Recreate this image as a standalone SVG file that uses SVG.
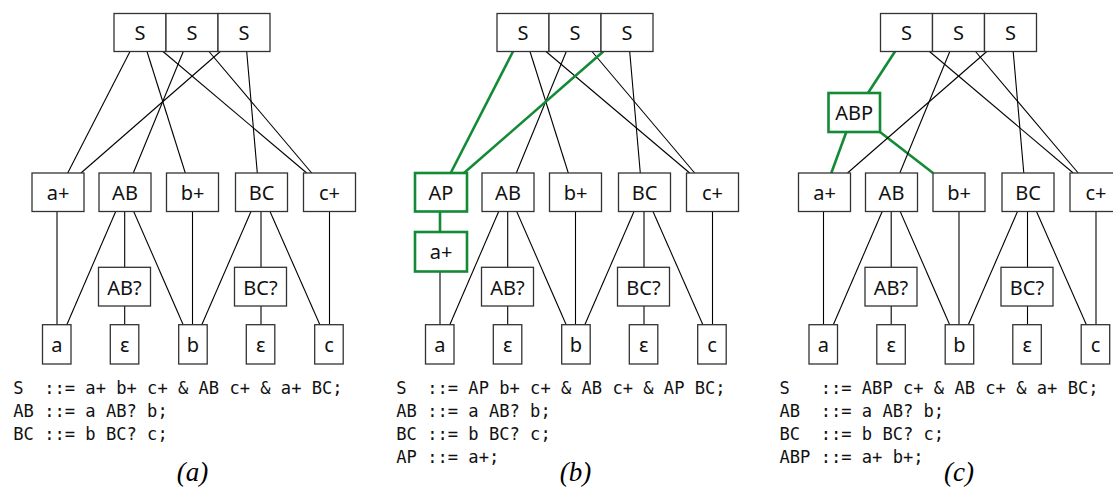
<svg xmlns="http://www.w3.org/2000/svg" width="1113" height="488" viewBox="0 0 1113 488">
<style>
.bx{fill:#fff;stroke:#333;stroke-width:1.3}
.hb{fill:#fff;stroke:#138a36;stroke-width:2.6}
.e{stroke:#000;stroke-width:1.1;fill:none}
.he{stroke:#138a36;stroke-width:2.6;fill:none}
.l{font-family:"Noto Sans","DejaVu Sans",sans-serif;font-size:20px;text-anchor:middle;fill:#111}
.g{font-family:"DejaVu Sans Mono","Liberation Mono",monospace;font-size:17.1px;fill:#111;white-space:pre}
.c{font-family:"Liberation Serif","Times New Roman",serif;font-style:italic;font-size:27px;text-anchor:middle;fill:#000}
</style>
<rect width="1113" height="488" fill="#fff"/>

<!-- Panel (a) -->
<g id="panel-a">
<g id="a-connectors">
<line class="e" x1="130" y1="51.5" x2="67.7" y2="173"/>
<line class="e" x1="147" y1="51.5" x2="185.3" y2="173"/>
<line class="e" x1="163" y1="51.5" x2="306.7" y2="173"/>
<line class="e" x1="183.3" y1="51.5" x2="133.3" y2="173"/>
<line class="e" x1="209" y1="51.5" x2="311.7" y2="173"/>
<line class="e" x1="220.3" y1="51.5" x2="81" y2="173"/>
<line class="e" x1="246.7" y1="51.5" x2="257.3" y2="173"/>
<line class="e" x1="57" y1="211.5" x2="57" y2="325"/>
<line class="e" x1="115.7" y1="211.5" x2="66.7" y2="325"/>
<line class="e" x1="124.7" y1="211.5" x2="124.7" y2="267.3"/>
<line class="e" x1="133.7" y1="211.5" x2="183.3" y2="325"/>
<line class="e" x1="124.7" y1="306" x2="124.7" y2="325"/>
<line class="e" x1="192.5" y1="211.5" x2="192.5" y2="325"/>
<line class="e" x1="251" y1="211.5" x2="201.7" y2="325"/>
<line class="e" x1="261" y1="211.5" x2="261" y2="267.3"/>
<line class="e" x1="270" y1="211.5" x2="320" y2="325"/>
<line class="e" x1="261" y1="306" x2="261" y2="325"/>
<line class="e" x1="329.5" y1="211.5" x2="329.5" y2="325"/>
</g>
<g id="a-S1"><rect class="bx" x="114" y="13.5" width="52" height="38"/><text class="l" x="140" y="40">S</text></g>
<g id="a-S2"><rect class="bx" x="166" y="13.5" width="52" height="38"/><text class="l" x="192" y="40">S</text></g>
<g id="a-S3"><rect class="bx" x="218" y="13.5" width="52" height="38"/><text class="l" x="244" y="40">S</text></g>
<g id="a-aplus"><rect class="bx" x="32" y="173" width="52" height="38.5"/><text class="l" x="58" y="200">a+</text></g>
<g id="a-AB"><rect class="bx" x="99" y="173" width="52" height="38.5"/><text class="l" x="125" y="200">AB</text></g>
<g id="a-bplus"><rect class="bx" x="166.5" y="173" width="52" height="38.5"/><text class="l" x="192.5" y="200">b+</text></g>
<g id="a-BC"><rect class="bx" x="235.5" y="173" width="52" height="38.5"/><text class="l" x="261.5" y="200">BC</text></g>
<g id="a-cplus"><rect class="bx" x="303.5" y="173" width="52" height="38.5"/><text class="l" x="329.5" y="200">c+</text></g>
<g id="a-ABq"><rect class="bx" x="98.5" y="267.3" width="52" height="38.7"/><text class="l" x="124.5" y="295">AB?</text></g>
<g id="a-BCq"><rect class="bx" x="234.5" y="267.3" width="52" height="38.7"/><text class="l" x="260.5" y="295">BC?</text></g>
<g id="a-a"><rect class="bx" x="42.5" y="324.7" width="28.5" height="39.3"/><text class="l" x="56.8" y="351.5">a</text></g>
<g id="a-eps1"><rect class="bx" x="110.3" y="324.7" width="28.5" height="39.3"/><text class="l" x="124.6" y="351.5">ε</text></g>
<g id="a-b"><rect class="bx" x="178.7" y="324.7" width="28.5" height="39.3"/><text class="l" x="193" y="351.5">b</text></g>
<g id="a-eps2"><rect class="bx" x="246.3" y="324.7" width="28.5" height="39.3"/><text class="l" x="260.6" y="351.5">ε</text></g>
<g id="a-c"><rect class="bx" x="314.7" y="324.7" width="28.5" height="39.3"/><text class="l" x="329" y="351.5">c</text></g>
<g id="a-grammar">
<text class="g" x="13.3" y="394" xml:space="preserve">S  ::= a+ b+ c+ &amp; AB c+ &amp; a+ BC;</text>
<text class="g" x="13.3" y="417" xml:space="preserve">AB ::= a AB? b;</text>
<text class="g" x="13.3" y="440" xml:space="preserve">BC ::= b BC? c;</text>
</g>
<text class="c" x="192.5" y="481">(a)</text>
</g>

<!-- Panel (b) -->
<g id="panel-b" transform="translate(383,0)">
<g id="b-connectors">
<line class="he" x1="130" y1="51.5" x2="67.7" y2="173"/>
<line class="e" x1="147" y1="51.5" x2="185.3" y2="173"/>
<line class="e" x1="163" y1="51.5" x2="306.7" y2="173"/>
<line class="e" x1="183.3" y1="51.5" x2="133.3" y2="173"/>
<line class="e" x1="209" y1="51.5" x2="311.7" y2="173"/>
<line class="he" x1="220.3" y1="51.5" x2="81" y2="173"/>
<line class="e" x1="246.7" y1="51.5" x2="257.3" y2="173"/>
<line class="he" x1="57" y1="211.5" x2="57" y2="232"/>
<line class="e" x1="57" y1="271.5" x2="57" y2="325"/>
<line class="e" x1="115.7" y1="211.5" x2="66.7" y2="325"/>
<line class="e" x1="124.7" y1="211.5" x2="124.7" y2="267.3"/>
<line class="e" x1="133.7" y1="211.5" x2="183.3" y2="325"/>
<line class="e" x1="124.7" y1="306" x2="124.7" y2="325"/>
<line class="e" x1="192.5" y1="211.5" x2="192.5" y2="325"/>
<line class="e" x1="251" y1="211.5" x2="201.7" y2="325"/>
<line class="e" x1="261" y1="211.5" x2="261" y2="267.3"/>
<line class="e" x1="270" y1="211.5" x2="320" y2="325"/>
<line class="e" x1="261" y1="306" x2="261" y2="325"/>
<line class="e" x1="329.5" y1="211.5" x2="329.5" y2="325"/>
</g>
<g id="b-S1"><rect class="bx" x="114" y="13.5" width="52" height="38"/><text class="l" x="140" y="40">S</text></g>
<g id="b-S2"><rect class="bx" x="166" y="13.5" width="52" height="38"/><text class="l" x="192" y="40">S</text></g>
<g id="b-S3"><rect class="bx" x="218" y="13.5" width="52" height="38"/><text class="l" x="244" y="40">S</text></g>
<g id="b-AP"><rect class="hb" x="32" y="173" width="52" height="38.5"/><text class="l" x="58" y="200">AP</text></g>
<g id="b-aplus"><rect class="hb" x="32" y="232" width="52" height="39.5"/><text class="l" x="58" y="259">a+</text></g>
<g id="b-AB"><rect class="bx" x="99" y="173" width="52" height="38.5"/><text class="l" x="125" y="200">AB</text></g>
<g id="b-bplus"><rect class="bx" x="166.5" y="173" width="52" height="38.5"/><text class="l" x="192.5" y="200">b+</text></g>
<g id="b-BC"><rect class="bx" x="235.5" y="173" width="52" height="38.5"/><text class="l" x="261.5" y="200">BC</text></g>
<g id="b-cplus"><rect class="bx" x="303.5" y="173" width="52" height="38.5"/><text class="l" x="329.5" y="200">c+</text></g>
<g id="b-ABq"><rect class="bx" x="98.5" y="267.3" width="52" height="38.7"/><text class="l" x="124.5" y="295">AB?</text></g>
<g id="b-BCq"><rect class="bx" x="234.5" y="267.3" width="52" height="38.7"/><text class="l" x="260.5" y="295">BC?</text></g>
<g id="b-a"><rect class="bx" x="42.5" y="324.7" width="28.5" height="39.3"/><text class="l" x="56.8" y="351.5">a</text></g>
<g id="b-eps1"><rect class="bx" x="110.3" y="324.7" width="28.5" height="39.3"/><text class="l" x="124.6" y="351.5">ε</text></g>
<g id="b-b"><rect class="bx" x="178.7" y="324.7" width="28.5" height="39.3"/><text class="l" x="193" y="351.5">b</text></g>
<g id="b-eps2"><rect class="bx" x="246.3" y="324.7" width="28.5" height="39.3"/><text class="l" x="260.6" y="351.5">ε</text></g>
<g id="b-c"><rect class="bx" x="314.7" y="324.7" width="28.5" height="39.3"/><text class="l" x="329" y="351.5">c</text></g>
<g id="b-grammar">
<text class="g" x="13.3" y="394" xml:space="preserve">S  ::= AP b+ c+ &amp; AB c+ &amp; AP BC;</text>
<text class="g" x="13.3" y="417" xml:space="preserve">AB ::= a AB? b;</text>
<text class="g" x="13.3" y="440" xml:space="preserve">BC ::= b BC? c;</text>
<text class="g" x="13.3" y="463" xml:space="preserve">AP ::= a+;</text>
</g>
<text class="c" x="192.5" y="481">(b)</text>
</g>

<!-- Panel (c) -->
<g id="panel-c" transform="translate(766.5,0)">
<g id="c-connectors">
<line class="he" x1="128.5" y1="51.5" x2="101.5" y2="93"/>
<line class="he" x1="79.8" y1="132" x2="64.8" y2="173"/>
<line class="he" x1="113.5" y1="132" x2="166.5" y2="173"/>
<line class="e" x1="163" y1="51.5" x2="306.7" y2="173"/>
<line class="e" x1="183.3" y1="51.5" x2="133.3" y2="173"/>
<line class="e" x1="209" y1="51.5" x2="311.7" y2="173"/>
<line class="e" x1="220.3" y1="51.5" x2="81" y2="173"/>
<line class="e" x1="246.7" y1="51.5" x2="257.3" y2="173"/>
<line class="e" x1="57" y1="211.5" x2="57" y2="325"/>
<line class="e" x1="115.7" y1="211.5" x2="66.7" y2="325"/>
<line class="e" x1="124.7" y1="211.5" x2="124.7" y2="267.3"/>
<line class="e" x1="133.7" y1="211.5" x2="183.3" y2="325"/>
<line class="e" x1="124.7" y1="306" x2="124.7" y2="325"/>
<line class="e" x1="192.5" y1="211.5" x2="192.5" y2="325"/>
<line class="e" x1="251" y1="211.5" x2="201.7" y2="325"/>
<line class="e" x1="261" y1="211.5" x2="261" y2="267.3"/>
<line class="e" x1="270" y1="211.5" x2="320" y2="325"/>
<line class="e" x1="261" y1="306" x2="261" y2="325"/>
<line class="e" x1="329.5" y1="211.5" x2="329.5" y2="325"/>
</g>
<g id="c-S1"><rect class="bx" x="114" y="13.5" width="52" height="38"/><text class="l" x="140" y="40">S</text></g>
<g id="c-S2"><rect class="bx" x="166" y="13.5" width="52" height="38"/><text class="l" x="192" y="40">S</text></g>
<g id="c-S3"><rect class="bx" x="218" y="13.5" width="52" height="38"/><text class="l" x="244" y="40">S</text></g>
<g id="c-ABP"><rect class="hb" x="62" y="93" width="51.5" height="39"/><text class="l" x="87.8" y="120">ABP</text></g>
<g id="c-aplus"><rect class="bx" x="32" y="173" width="52" height="38.5"/><text class="l" x="58" y="200">a+</text></g>
<g id="c-AB"><rect class="bx" x="99" y="173" width="52" height="38.5"/><text class="l" x="125" y="200">AB</text></g>
<g id="c-bplus"><rect class="bx" x="166.5" y="173" width="52" height="38.5"/><text class="l" x="192.5" y="200">b+</text></g>
<g id="c-BC"><rect class="bx" x="235.5" y="173" width="52" height="38.5"/><text class="l" x="261.5" y="200">BC</text></g>
<g id="c-cplus"><rect class="bx" x="303.5" y="173" width="52" height="38.5"/><text class="l" x="329.5" y="200">c+</text></g>
<g id="c-ABq"><rect class="bx" x="98.5" y="267.3" width="52" height="38.7"/><text class="l" x="124.5" y="295">AB?</text></g>
<g id="c-BCq"><rect class="bx" x="234.5" y="267.3" width="52" height="38.7"/><text class="l" x="260.5" y="295">BC?</text></g>
<g id="c-a"><rect class="bx" x="42.5" y="324.7" width="28.5" height="39.3"/><text class="l" x="56.8" y="351.5">a</text></g>
<g id="c-eps1"><rect class="bx" x="110.3" y="324.7" width="28.5" height="39.3"/><text class="l" x="124.6" y="351.5">ε</text></g>
<g id="c-b"><rect class="bx" x="178.7" y="324.7" width="28.5" height="39.3"/><text class="l" x="193" y="351.5">b</text></g>
<g id="c-eps2"><rect class="bx" x="246.3" y="324.7" width="28.5" height="39.3"/><text class="l" x="260.6" y="351.5">ε</text></g>
<g id="c-c"><rect class="bx" x="314.7" y="324.7" width="28.5" height="39.3"/><text class="l" x="329" y="351.5">c</text></g>
<g id="c-grammar">
<text class="g" x="13" y="394" xml:space="preserve">S   ::= ABP c+ &amp; AB c+ &amp; a+ BC;</text>
<text class="g" x="13" y="417" xml:space="preserve">AB  ::= a AB? b;</text>
<text class="g" x="13" y="440" xml:space="preserve">BC  ::= b BC? c;</text>
<text class="g" x="13" y="463" xml:space="preserve">ABP ::= a+ b+;</text>
</g>
<text class="c" x="192.5" y="481">(c)</text>
</g>
</svg>
